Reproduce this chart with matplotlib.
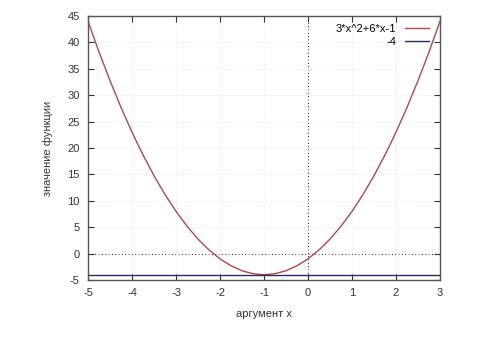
import matplotlib
matplotlib.use("Agg")
import matplotlib.pyplot as plt

# values
x_vals = [-5, -4.75, -4.5, -4.25, -4, -3.75, -3.5, -3.25, -3, -2.75, -2.5, -2.25,
          -2, -1.75, -1.5, -1.25, -1, -0.75, -0.5, -0.25, 0, 0.25, 0.5, 0.75,
          1, 1.25, 1.5, 1.75, 2, 2.25, 2.5, 2.75, 3]
y_parab = [44, 38.19, 32.75, 27.69, 23, 18.69, 14.75, 11.19, 8, 5.19, 2.75, 0.69,
           -1, -2.31, -3.25, -3.81, -4, -3.81, -3.25, -2.31, -1, 0.69, 2.75, 5.19,
           8, 11.19, 14.75, 18.69, 23, 27.69, 32.75, 38.19, 44]
const_x = [-5, 3]
const_y = [-4, -4]

x_ticks = [-5, -4, -3, -2, -1, 0, 1, 2, 3]
y_ticks = [-5, 0, 5, 10, 15, 20, 25, 30, 35, 40, 45]

plt.rcParams['font.family'] = ['Liberation Sans', 'DejaVu Sans']
plt.rcParams['axes.unicode_minus'] = False
fig = plt.figure(figsize=(5, 3.56), dpi=100)
ax = fig.add_axes([0.176, 0.2135, 0.704, 0.7415])

ax.plot(x_vals, y_parab, color='#b04848', lw=1.0, label='3*x^2+6*x-1')
ax.plot(const_x, const_y, color='#2c2c6a', lw=1.0, label='-4')

ax.axvline(0, color='#333333', lw=0.8, ls=(0, (1, 2)), zorder=1)
ax.axhline(0, color='#333333', lw=0.8, ls=(0, (1, 2)), zorder=1)

ax.set_xlim(-5, 3)
ax.set_ylim(-5, 45)
ax.set_xticks(x_ticks)
ax.set_yticks(y_ticks)
ax.grid(True, color='#e2e2e2', lw=0.6, ls=(0, (1, 2)))
ax.tick_params(direction='in', top=True, right=True, length=4, width=0.8,
               labelsize=8, colors='#333333', labelcolor='#333333', pad=6)
for s in ax.spines.values():
    s.set_color('#555555')
    s.set_linewidth(1.0)

ax.set_xlabel('аргумент x', fontsize=8, color='#333333', labelpad=8)
ax.set_ylabel('значение функции', fontsize=8, color='#333333', labelpad=10)

ax.legend(loc='upper right', frameon=False, markerfirst=False, fontsize=8,
          handlelength=2.2, borderaxespad=0.3, labelspacing=0.3,
          bbox_to_anchor=(0.992, 1.0))

fig.savefig('out.png', dpi=100)
